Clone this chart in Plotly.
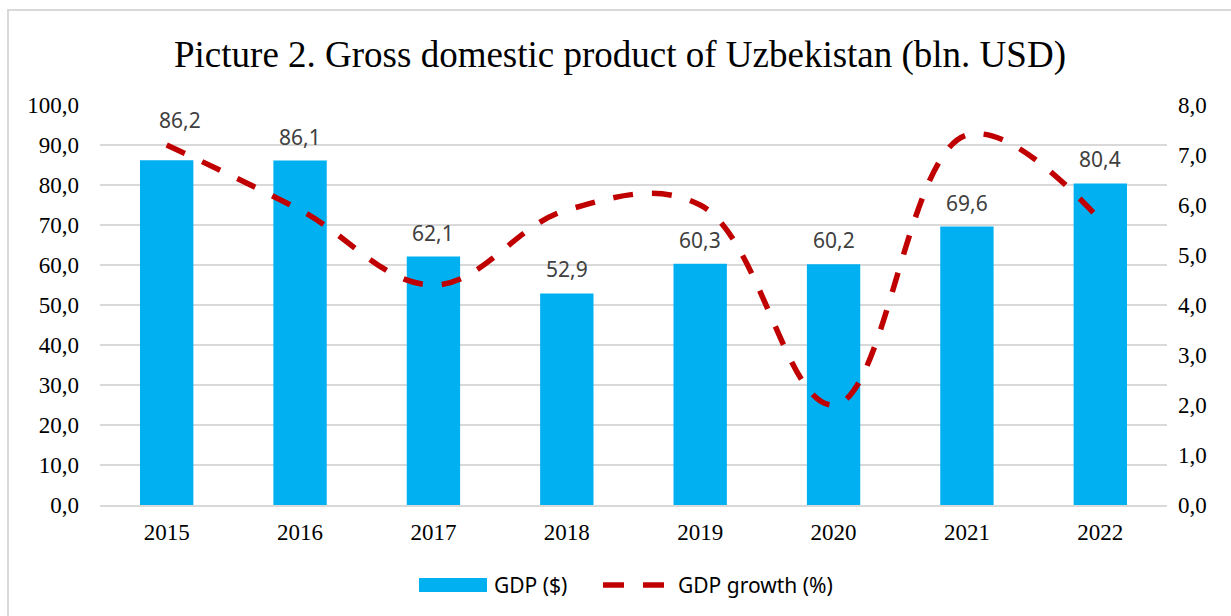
import plotly.graph_objects as go

years = ["2015", "2016", "2017", "2018", "2019", "2020", "2021", "2022"]
gdp = [86.2, 86.1, 62.1, 52.9, 60.3, 60.2, 69.6, 80.4]
growth = [7.2, 5.9, 4.4, 5.9, 6.0, 2.0, 7.4, 5.7]
title_text = "Picture 2. Gross domestic product of Uzbekistan (bln. USD)"
bar_name = "GDP ($)"
line_name = "GDP growth (%)"

BLUE = "#00b0f0"
RED = "#c00000"
GRID = "#d9d9d9"
SERIF = "Liberation Serif"
SANS = "Noto Sans"

# plot area in pixels
W, H = 1231, 616
L, R, T, B = 100, 64, 105, 111
PW, PH = W - L - R, H - T - B


def px(x):
    return (x - L) / PW


def py(y):
    return (H - B - y) / PH


fig = go.Figure()
fig.add_trace(go.Bar(x=years, y=gdp, name=bar_name, marker=dict(color=BLUE, line=dict(width=0)),
                     yaxis="y", showlegend=False))
fig.add_trace(go.Scatter(x=years, y=growth, name=line_name, mode="lines", yaxis="y2",
                         line=dict(color=RED, width=5.5, dash="20px,19px", shape="spline", smoothing=1.1),
                         showlegend=False))

annotations = []
for i, v in enumerate(gdp):
    dy, dx = (40, 13) if i == 0 else (24, 0)
    annotations.append(dict(x=i, y=v, xref="x", yref="y", text=f"{v:.1f}".replace(".", ","),
                            showarrow=False, yanchor="middle", xanchor="center", yshift=dy, xshift=dx,
                            font=dict(family=SANS, size=21, color="#404040")))

annotations.append(dict(x=px(620), y=py(55), xref="paper", yref="paper", text=title_text,
                        showarrow=False, xanchor="center", yanchor="middle",
                        font=dict(family=SERIF, size=37, color="#000000")))
# legend texts
annotations.append(dict(x=px(492), y=py(585), xref="paper", yref="paper", text=bar_name,
                        showarrow=False, xanchor="left", yanchor="middle",
                        font=dict(family=SANS, size=21, color="#000000")))
annotations.append(dict(x=px(676), y=py(585), xref="paper", yref="paper", text=line_name,
                        showarrow=False, xanchor="left", yanchor="middle",
                        font=dict(family=SANS, size=21, color="#000000")))

shapes = [
    # chart frame
    dict(type="rect", xref="paper", yref="paper", x0=px(8), x1=px(1245), y0=py(10), y1=py(640),
         line=dict(color=GRID, width=2), fillcolor="rgba(0,0,0,0)", layer="below"),
    # legend bar swatch
    dict(type="rect", xref="paper", yref="paper", x0=px(419), x1=px(487), y0=py(578), y1=py(592),
         line=dict(width=0), fillcolor=BLUE),
    # legend line swatch
    dict(type="line", xref="paper", yref="paper", x0=px(603), x1=px(624), y0=py(585), y1=py(585),
         line=dict(color=RED, width=5.5)),
    dict(type="line", xref="paper", yref="paper", x0=px(643), x1=px(664), y0=py(585), y1=py(585),
         line=dict(color=RED, width=5.5)),
]

fig.update_layout(
    width=W, height=H,
    margin=dict(l=L, r=R, t=T, b=B, pad=0),
    paper_bgcolor="white", plot_bgcolor="white",
    separators=", ",
    bargap=0.6,
    showlegend=False,
    annotations=annotations,
    shapes=shapes,
    xaxis=dict(type="category", range=[-0.5, len(years) - 0.5], autorange=False, showgrid=False,
               showline=True, linecolor=GRID, linewidth=1.5,
               ticks="", tickfont=dict(family=SERIF, size=23, color="#000000"), ticklabelstandoff=6),
    yaxis=dict(range=[0, 100], dtick=10, tickformat=".1f", showgrid=True, gridcolor=GRID, gridwidth=1.5,
               zeroline=False, showline=False, ticks="",
               tickfont=dict(family=SERIF, size=23, color="#000000"), ticklabelstandoff=20),
    yaxis2=dict(range=[0, 8], dtick=1, tickformat=".1f", overlaying="y", side="right", showgrid=False,
                zeroline=False, showline=False, ticks="",
                tickfont=dict(family=SERIF, size=23, color="#000000"), ticklabelstandoff=10),
)

fig.write_html("out.html")
